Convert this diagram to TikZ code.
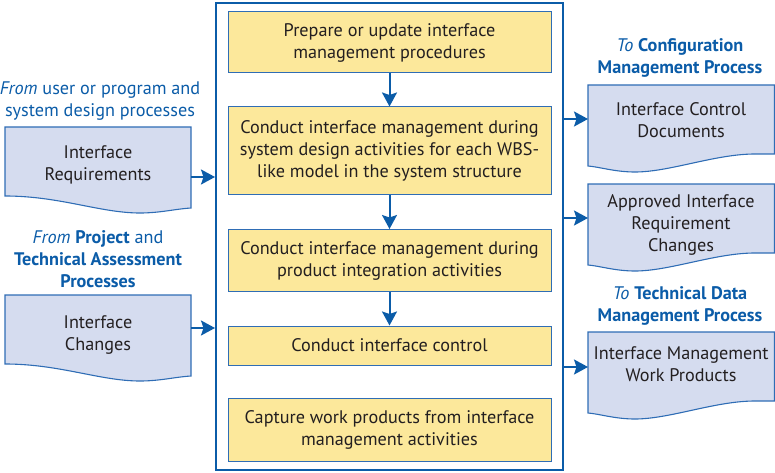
\documentclass[tikz,border=0pt]{standalone}
\usepackage{fontspec}
\setmainfont{PT Sans}
\usetikzlibrary{arrows.meta}
\definecolor{lblue}{HTML}{0B5CA8}
\definecolor{bblue}{HTML}{2F6DB5}
\definecolor{yfill}{HTML}{FCE89B}
\definecolor{dfill}{HTML}{D5DCEF}
\definecolor{tgray}{HTML}{231F20}
\tikzset{
  ybox/.style={draw=bblue, line width=1pt, fill=yfill, minimum width=323pt, inner sep=0pt,
    align=center, text=tgray, font=\fontsize{18.2}{22}\selectfont},
  doc/.style={draw=bblue, line width=1.1pt, fill=dfill},
  doctext/.style={align=center, text=tgray, font=\fontsize{18.2}{22}\selectfont},
  lbl/.style={align=center, text=lblue, font=\fontsize{18.2}{22}\selectfont},
  conn/.style={draw=lblue, line width=2pt, -{Stealth[length=14pt,width=15pt,inset=2.5pt]}},
}
\begin{document}
\begin{tikzpicture}[x=1pt,y=-1pt]
\useasboundingbox (0,0) rectangle (775,473);
% outer box
\node[draw=lblue, line width=2pt, minimum width=347pt, minimum height=467pt, inner sep=0pt] (outer) at (389.5,236.5) {};
% yellow boxes
\node[ybox, minimum height=61pt] (b1) at (389.5,42.5) {Prepare or update interface\\management procedures};
\node[ybox, minimum height=87pt] (b2) at (389.5,150.5) {Conduct interface management during\\system design activities for each WBS-\\like model in the system structure};
\node[ybox, minimum height=62pt] (b3) at (389.5,260.5) {Conduct interface management during\\product integration activities};
\node[ybox, minimum height=39pt] (b4) at (389.5,345.5) {Conduct interface control};
\node[ybox, minimum height=63pt] (b5) at (389.5,429.5) {Capture work products from interface\\management activities};
\draw[conn] (b1) -- (b2);
\draw[conn] (b2) -- (b3);
\draw[conn] (b3) -- (b4);
% left documents
\draw[doc] (5,127) -- (191,127) -- (191,208) .. controls (175,209) and (160,213) .. (140,213)
  .. controls (100,213) and (60,196) .. (5,196) -- cycle;
\node[doctext] (dl1) at (98,165) {Interface\\Requirements};
\draw[doc] (5,295) -- (191,295) -- (191,376) .. controls (175,377) and (160,381) .. (140,381)
  .. controls (100,381) and (60,364) .. (5,364) -- cycle;
\node[doctext] (dl2) at (98,335) {Interface\\Changes};
\coordinate (l1) at (191,177);
\coordinate (l2) at (191,328);
\draw[conn] (l1) -- (l1 -| outer.west);
\draw[conn] (l2) -- (l2 -| outer.west);
% right documents
\draw[doc] (588,85) -- (774.5,85) -- (774.5,154) -- (755,154) .. controls (715,154) and (670,172) .. (635,172)
  .. controls (615,172) and (600,167) .. (588,166) -- cycle;
\node[doctext] (dr1) at (681,120) {Interface Control\\Documents};
\draw[doc] (588,184) -- (774.5,184) -- (774.5,253) -- (755,253) .. controls (715,253) and (670,271) .. (635,271)
  .. controls (615,271) and (600,266) .. (588,265) -- cycle;
\node[doctext] (dr2) at (681,225) {Approved Interface\\Requirement\\Changes};
\draw[doc] (588,332) -- (774.5,332) -- (774.5,401) -- (755,401) .. controls (715,401) and (670,419) .. (635,419)
  .. controls (615,419) and (600,414) .. (588,413) -- cycle;
\node[doctext] (dr3) at (681,364) {Interface Management\\Work Products};
\coordinate (r1) at (588,119);
\coordinate (r2) at (588,218);
\coordinate (r3) at (588,367);
\draw[conn] (r1 -| outer.east) -- (r1);
\draw[conn] (r2 -| outer.east) -- (r2);
\draw[conn] (r3 -| outer.east) -- (r3);
% labels
\node[lbl] (t1) at (100,101) {\textit{From} user or program and\\system design processes};
\node[lbl] (t2) at (98,259) {\textit{From} \textbf{Project} and\\\textbf{Technical Assessment}\\\textbf{Processes}};
\node[lbl] (t3) at (680,58) {\textit{To} \textbf{Configuration}\\\textbf{Management Process}};
\node[lbl] (t4) at (680,306) {\textit{To} \textbf{Technical Data}\\\textbf{Management Process}};
\end{tikzpicture}
\end{document}
